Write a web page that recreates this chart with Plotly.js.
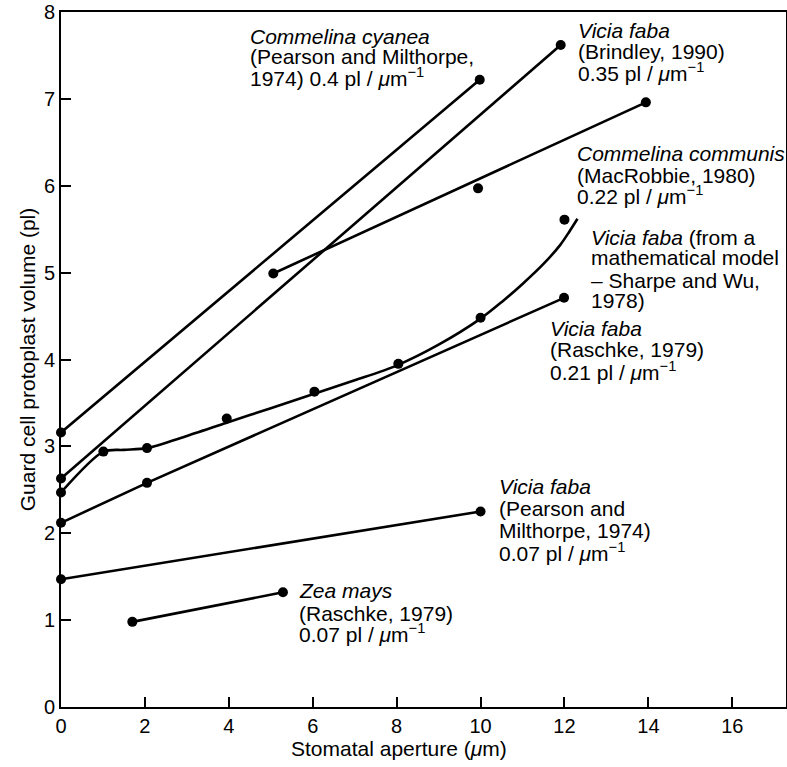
<!DOCTYPE html>
<html>
<head>
<meta charset="utf-8">
<script src="https://cdn.plot.ly/plotly-3.0.1.min.js"></script>
<style>html,body{margin:0;padding:0;background:#fff;}#chart{width:787px;height:767px;}</style>
</head>
<body>
<div id="chart"></div>
<script>
// ---- Data ----
const cyaneaX = [0, 9.98];
const cyaneaY = [3.16, 7.22];

const brindleyX = [0, 11.91];
const brindleyY = [2.63, 7.62];

const communisX = [5.06, 9.94, 13.94];
const communisY = [4.99, 5.97, 6.96];

const sharpeDotX = [0, 1.01, 2.05, 3.95, 6.04, 8.04, 10.0, 12.0];
const sharpeDotY = [2.47, 2.94, 2.98, 3.32, 3.63, 3.95, 4.48, 5.61];
const sharpeCurveX = [0, 1.01, 1.5, 2.05, 3, 4, 5, 6, 7, 8, 9, 10.0, 10.5, 11.0, 11.5, 11.9, 12.1, 12.31];
const sharpeCurveY = [2.47, 2.94, 2.96, 2.98, 3.12, 3.28, 3.44, 3.60, 3.76, 3.93, 4.17, 4.47, 4.66, 4.87, 5.10, 5.32, 5.46, 5.62];

const raschkeX = [0, 2.05, 11.99];
const raschkeY = [2.12, 2.58, 4.71];

const pearsonX = [0, 10.0];
const pearsonY = [1.47, 2.25];

const zeaX = [1.70, 5.29];
const zeaY = [0.98, 1.32];

const xTicks = [0, 2, 4, 6, 8, 10, 12, 14, 16];
const yTicks = [0, 1, 2, 3, 4, 5, 6, 7, 8];

const mu = '<i>μ</i>m<sup>−1</sup>';
const labels = [
  {x: 4.46, y: [7.72, 7.49, 7.25], lines: ['<i>Commelina cyanea</i>', '(Pearson and Milthorpe,', '1974) 0.4 pl / ' + mu]},
  {x: 12.28, y: [7.79, 7.54, 7.31], lines: ['<i>Vicia faba</i>', '(Brindley, 1990)', '0.35 pl / ' + mu]},
  {x: 12.25, y: [6.37, 6.12, 5.89], lines: ['<i>Commelina communis</i>', '(MacRobbie, 1980)', '0.22 pl / ' + mu]},
  {x: 12.59, y: [5.40, 5.17, 4.91, 4.68], lines: ['<i>Vicia faba</i> (from a', 'mathematical model', '– Sharpe and Wu,', '1978)']},
  {x: 11.61, y: [4.36, 4.11, 3.87], lines: ['<i>Vicia faba</i>', '(Raschke, 1979)', '0.21 pl / ' + mu]},
  {x: 10.39, y: [2.54, 2.29, 2.03, 1.78], lines: ['<i>Vicia faba</i>', '(Pearson and', 'Milthorpe, 1974)', '0.07 pl / ' + mu]},
  {x: 5.63, y: [1.34, 1.08, 0.85], lines: ['<i>Zea mays</i>', '(Raschke, 1979)', '0.07 pl / ' + mu]}
];

const LW = 2.6, MS = 10, C = '#000';
const lineTrace = (x, y, mode, extra) => Object.assign({
  x: x, y: y, mode: mode, type: 'scatter', showlegend: false, hoverinfo: 'skip',
  line: {color: C, width: LW}, marker: {color: C, size: MS}, cliponaxis: false
}, extra || {});

const traces = [
  lineTrace(cyaneaX, cyaneaY, 'lines+markers'),
  lineTrace(brindleyX, brindleyY, 'lines+markers'),
  lineTrace([communisX[0], communisX[2]], [communisY[0], communisY[2]], 'lines+markers'),
  lineTrace(communisX.slice(1, 2), communisY.slice(1, 2), 'markers'),
  lineTrace(sharpeCurveX, sharpeCurveY, 'lines', {line: {color: C, width: LW, shape: 'spline', smoothing: 0.8}}),
  lineTrace(sharpeDotX, sharpeDotY, 'markers'),
  lineTrace(raschkeX, raschkeY, 'lines+markers'),
  lineTrace(pearsonX, pearsonY, 'lines+markers'),
  lineTrace(zeaX, zeaY, 'lines+markers')
];

const FONT = '"Liberation Sans", Arial, Helvetica, sans-serif';
const FS = 21;
const W = 787, H = 767, L = 61, R = 1, T = 12, B = 60;

const annotations = [];
labels.forEach(l => {
  l.lines.forEach((t, i) => {
    annotations.push({x: l.x, y: l.y[i], xref: 'x', yref: 'y', text: t, showarrow: false,
      xanchor: 'left', yanchor: 'middle', align: 'left', font: {family: FONT, size: FS, color: C}});
  });
});
annotations.push({x: (399 - L) / (W - L - R), y: (H - B - 749) / (H - T - B), xref: 'paper', yref: 'paper',
  text: 'Stomatal aperture (<i>μ</i>m)', showarrow: false, xanchor: 'center', yanchor: 'middle',
  font: {family: FONT, size: FS, color: C}});

const layout = {
  width: W, height: H,
  margin: {l: L, r: R, t: T, b: B, pad: 0},
  paper_bgcolor: '#fff', plot_bgcolor: '#fff',
  font: {family: FONT, size: FS, color: C},
  showlegend: false,
  xaxis: {range: [0, 17.28], tickvals: xTicks, ticktext: xTicks.map(String), ticks: 'inside', ticklen: 10,
    tickwidth: 2, tickcolor: C, showline: true, linewidth: 2, linecolor: C, mirror: true,
    showgrid: false, zeroline: false, tickfont: {family: FONT, size: 20, color: C}, fixedrange: true},
  yaxis: {range: [0, 8], tickvals: yTicks, ticktext: yTicks.map(String), ticks: 'inside', ticklen: 10,
    tickwidth: 2, tickcolor: C, showline: true, linewidth: 2, linecolor: C, mirror: true,
    showgrid: false, zeroline: false, tickfont: {family: FONT, size: 20, color: C},
    title: {text: 'Guard cell protoplast volume (pl)', font: {family: FONT, size: FS, color: C}, standoff: 3},
    fixedrange: true},
  annotations: annotations
};

Plotly.newPlot('chart', traces, layout, {displayModeBar: false, staticPlot: true});
</script>
</body>
</html>
